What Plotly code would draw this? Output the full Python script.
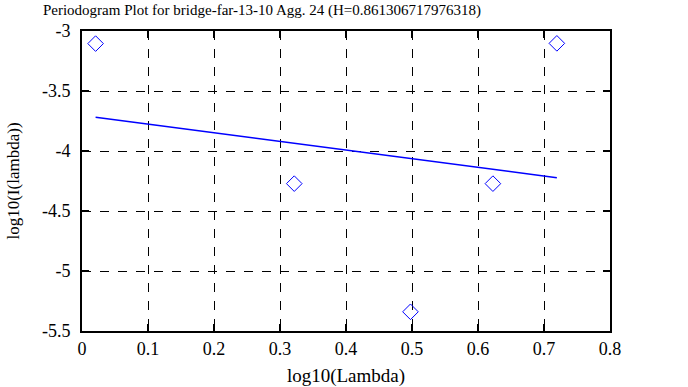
import numpy as np
import plotly.graph_objects as go

# data
log_lambda = [0.0206, 0.3216, 0.4977, 0.6226, 0.7195]
log_I = [-3.105, -4.272, -5.340, -4.272, -3.103]

x_ticks = [0, 0.1, 0.2, 0.3, 0.4, 0.5, 0.6, 0.7, 0.8]
x_ticktext = ["0", "0.1", "0.2", "0.3", "0.4", "0.5", "0.6", "0.7", "0.8"]
y_ticks = [-3, -3.5, -4, -4.5, -5, -5.5]
y_ticktext = ["-3", "-3.5", "-4", "-4.5", "-5", "-5.5"]

title = "Periodogram Plot for bridge-far-13-10 Agg. 24 (H=0.861306717976318)"

slope, intercept = np.polyfit(log_lambda, log_I, 1)
fit_x = [min(log_lambda), max(log_lambda)]
fit_y = [intercept + slope * v for v in fit_x]

FONT = "Times New Roman"
TICKFONT = "serif"

fig = go.Figure()
fig.add_trace(go.Scatter(
    x=log_lambda, y=log_I, mode="markers",
    marker=dict(symbol="diamond-open", size=12, color="#0000ff", line=dict(width=1, color="#0000ff")),
    showlegend=False,
))
fig.add_trace(go.Scatter(
    x=fit_x, y=fit_y, mode="lines",
    line=dict(color="#0000ff", width=1.5),
    showlegend=False,
))

axis_common = dict(
    showline=True, linecolor="black", linewidth=2, mirror="ticks",
    ticks="inside", ticklen=7, tickwidth=1.5, tickcolor="black",
    showgrid=True, gridcolor="black", gridwidth=1, griddash="dash",
    zeroline=False, automargin=False,
)

fig.update_layout(
    width=688, height=387,
    margin=dict(l=82, r=78, t=31, b=56, autoexpand=False),
    paper_bgcolor="white", plot_bgcolor="white",
    title=dict(text=title, x=262/688, xanchor="center", y=1 - 10/387, yanchor="middle",
               font=dict(family=FONT, size=15, color="black")),
    xaxis=dict(range=[0, 0.8], tickmode="array", tickvals=x_ticks, ticktext=x_ticktext,
               tickfont=dict(family=TICKFONT, size=18, color="black"),
               title=dict(text="log10(Lambda)", standoff=12,
                          font=dict(family=FONT, size=19, color="black")), **axis_common),
    yaxis=dict(range=[-5.5, -3], tickmode="array", tickvals=y_ticks, ticktext=y_ticktext,
               ticklabelstandoff=6,
               tickfont=dict(family=TICKFONT, size=18, color="black"),
               title=dict(text="log10(I(lambda))", standoff=18,
                          font=dict(family=FONT, size=17, color="black")), **axis_common),
)

fig.write_html("out.html", config={"displayModeBar": False},
               post_script="document.body.style.margin='0';document.body.style.overflow='hidden';")
